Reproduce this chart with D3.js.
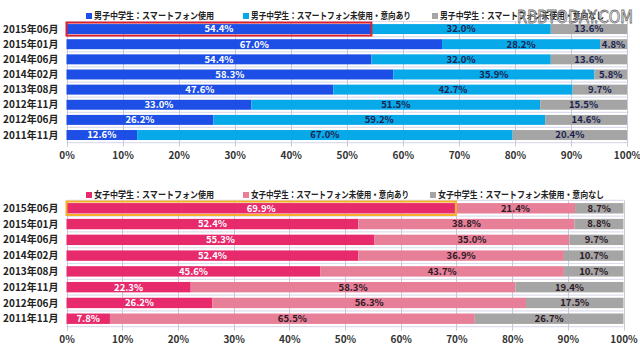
<!DOCTYPE html>
<html><head><meta charset="utf-8">
<script src="https://cdn.jsdelivr.net/npm/d3@7"></script>
<style>
body{margin:0;background:#fff;}
svg text{font-family:"Noto Sans CJK JP","Noto Sans",sans-serif;}
</style></head>
<body><svg id="c" width="640" height="349"></svg>
<script>
const months = ["2015年06月","2015年01月","2014年06月","2014年02月","2013年08月","2012年11月","2012年06月","2011年11月"];
const boysUse    = [54.4,67.0,54.4,58.3,47.6,33.0,26.2,12.6];
const boysIntent = [32.0,28.2,32.0,35.9,42.7,51.5,59.2,67.0];
const boysNone   = [13.6,4.8,13.6,5.8,9.7,15.5,14.6,20.4];
const girlsUse    = [69.9,52.4,55.3,52.4,45.6,22.3,26.2,7.8];
const girlsIntent = [21.4,38.8,35.0,36.9,43.7,58.3,56.3,65.5];
const girlsNone   = [8.7,8.8,9.7,10.7,10.7,19.4,17.5,26.7];
const ticks = [0,10,20,30,40,50,60,70,80,90,100];
const boysLegend = ["男子中学生：スマートフォン使用","男子中学生：スマートフォン未使用・意向あり","男子中学生：スマートフォン未使用・意向なし"];
const girlsLegend = ["女子中学生：スマートフォン使用","女子中学生：スマートフォン未使用・意向あり","女子中学生：スマートフォン未使用・意向なし"];

const svg = d3.select("#c");

function panel(cfg){
  const g = svg.append("g");
  const x = d3.scaleLinear().domain([0,100]).range([cfg.x0,cfg.x1]);
  const y = d3.scaleBand().domain(months).range([cfg.y0,cfg.y1]).paddingInner(0.34).paddingOuter(0.17);
  const step = y.step();
  g.selectAll("line.h").data(d3.range(months.length+1)).enter().append("line")
    .attr("x1",cfg.x0).attr("x2",cfg.x1)
    .attr("y1",i=>cfg.y0+i*step).attr("y2",i=>cfg.y0+i*step)
    .attr("stroke","#dcdcee").attr("stroke-width",1.2);
  g.selectAll("line.v").data(ticks).enter().append("line")
    .attr("x1",d=>Math.round(x(d))+0.5).attr("x2",d=>Math.round(x(d))+0.5)
    .attr("y1",cfg.y0).attr("y2",cfg.y1+4)
    .attr("stroke","#c9c9d6").attr("stroke-width",1);
  const rows = months.map((m,i)=>({m, v:[cfg.s[0][i],cfg.s[1][i],cfg.s[2][i]]}));
  rows.forEach(r=>{
    let acc=0;
    r.v.forEach((v,k)=>{
      const a=acc, b=acc+v; acc=b;
      g.append("rect").attr("x",x(a)).attr("width",x(b)-x(a))
        .attr("y",y(r.m)).attr("height",y.bandwidth()).attr("fill",cfg.colors[k]);
      g.append("text").attr("x",(x(a)+x(b))/2).attr("y",y(r.m)+y.bandwidth()/2)
        .attr("dy","0.36em").attr("text-anchor","middle")
        .attr("font-size",9.5).attr("font-weight","bold")
        .attr("fill",k===0?"#ffffff":cfg.dark)
        .text(v.toFixed(1)+"%");
    });
  });
  g.append("rect").attr("x",x(0)).attr("y",y(months[0])-1.5)
    .attr("width",x(cfg.s[0][0])-x(0)).attr("height",y.bandwidth()+3)
    .attr("fill","none").attr("stroke",cfg.hl).attr("stroke-width",2);
  g.selectAll("text.row").data(months).enter().append("text")
    .attr("x",cfg.x0-8).attr("y",d=>y(d)+y.bandwidth()/2).attr("dy","0.36em")
    .attr("text-anchor","end").attr("font-size",10).attr("font-weight","bold").attr("fill","#222")
    .text(d=>d);
  const ax = g.append("g").attr("transform",`translate(0,${cfg.y1})`)
    .call(d3.axisBottom(x).tickValues(ticks).tickFormat(d=>d+"%").tickSize(0).tickPadding(9));
  ax.select(".domain").remove();
  ax.selectAll("text").attr("font-size",10).attr("font-weight","bold").attr("fill","#333")
    .style("font-family","'Noto Sans CJK JP',sans-serif");
  cfg.legend.forEach((t,k)=>{
    const lx = cfg.lx[k];
    g.append("rect").attr("x",lx).attr("y",cfg.ly-3).attr("width",6).attr("height",6).attr("fill",cfg.colors[k]);
    g.append("text").attr("x",lx+8).attr("y",cfg.ly).attr("dy","0.36em")
      .attr("font-size",9.5).attr("font-weight","bold").attr("fill","#222")
      .attr("textLength",cfg.lw[k]).attr("lengthAdjust","spacingAndGlyphs").text(t);
  });
}

panel({x0:66.5,x1:627,y0:21.5,y1:142.6,s:[boysUse,boysIntent,boysNone],
  colors:["#1d4fe6","#07a9e9","#a5a5a5"],dark:"#1b2450",hl:"#d9222e",
  legend:boysLegend,lx:[86,243,432],lw:[120,160,164],ly:16});
panel({x0:66.5,x1:623.5,y0:200.4,y1:326.6,s:[girlsUse,girlsIntent,girlsNone],
  colors:["#e62a6c","#e87f98","#a5a5a5"],dark:"#2e1a26",hl:"#f5b027",
  legend:girlsLegend,lx:[86,243,430],lw:[120,158,166],ly:195});

svg.append("text").attr("x",517).attr("y",23)
  .attr("font-size",18).attr("fill","rgba(255,255,255,0.3)").attr("stroke","#707070").attr("stroke-width",0.9)
  .attr("textLength",116).attr("lengthAdjust","spacingAndGlyphs")
  .style("font-family","'DejaVu Sans',sans-serif").text("RBBTODAY.COM");
</script></body></html>
